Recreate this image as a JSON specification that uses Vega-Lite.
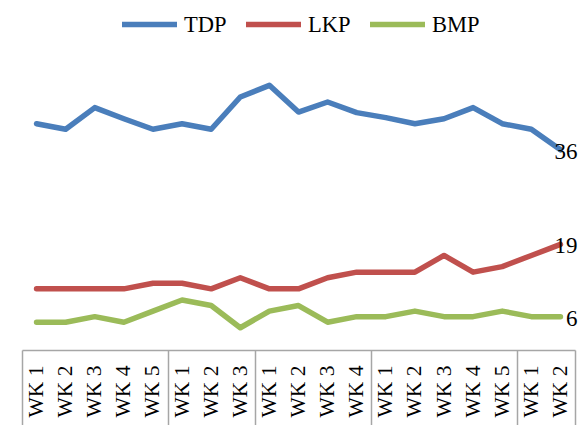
{
  "$schema": "https://vega.github.io/schema/vega-lite/v6.json",
  "autosize": {"type": "none"},
  "padding": {"left": 22, "top": 72, "right": 10, "bottom": 75},
  "width": 553,
  "height": 278,
  "config": {"view": {"stroke": null}, "font": "Liberation Serif"},
  "data": {
    "values": [
      {"key": "1|WK 1", "TDP": 40.7, "LKP": 11, "BMP": 5},
      {"key": "1|WK 2", "TDP": 39.7, "LKP": 11, "BMP": 5},
      {"key": "1|WK 3", "TDP": 43.6, "LKP": 11, "BMP": 6},
      {"key": "1|WK 4", "TDP": 41.6, "LKP": 11, "BMP": 5},
      {"key": "1|WK 5", "TDP": 39.7, "LKP": 12, "BMP": 7},
      {"key": "2|WK 1", "TDP": 40.7, "LKP": 12, "BMP": 9},
      {"key": "2|WK 2", "TDP": 39.7, "LKP": 11, "BMP": 8},
      {"key": "2|WK 3", "TDP": 45.5, "LKP": 13, "BMP": 4},
      {"key": "3|WK 1", "TDP": 47.6, "LKP": 11, "BMP": 7},
      {"key": "3|WK 2", "TDP": 42.8, "LKP": 11, "BMP": 8},
      {"key": "3|WK 3", "TDP": 44.6, "LKP": 13, "BMP": 5},
      {"key": "3|WK 4", "TDP": 42.7, "LKP": 14, "BMP": 6},
      {"key": "4|WK 1", "TDP": 41.8, "LKP": 14, "BMP": 6},
      {"key": "4|WK 2", "TDP": 40.7, "LKP": 14, "BMP": 7},
      {"key": "4|WK 3", "TDP": 41.6, "LKP": 17, "BMP": 6},
      {"key": "4|WK 4", "TDP": 43.6, "LKP": 14, "BMP": 6},
      {"key": "4|WK 5", "TDP": 40.7, "LKP": 15, "BMP": 7},
      {"key": "5|WK 1", "TDP": 39.7, "LKP": 17, "BMP": 6},
      {"key": "5|WK 2", "TDP": 36, "LKP": 19, "BMP": 6}
    ]
  },
  "transform": [{"fold": ["TDP", "LKP", "BMP"], "as": ["series", "value"]}],
  "encoding": {
    "x": {
      "field": "key",
      "type": "nominal",
      "sort": null,
      "bandPosition": 0.5,
      "scale": {"type": "band", "paddingInner": 0, "paddingOuter": 0},
      "axis": {
        "title": null,
        "labelExpr": "split(datum.value, '|')[1]",
        "labelAngle": 270,
        "labelFontSize": 21.5,
        "labelFont": "Liberation Serif",
        "labelColor": "black",
        "labelOverlap": false,
        "labelPadding": -61,
        "tickBand": "extent",
        "tickSize": 76,
        "tickColor": "#a6a6a6",
        "tickWidth": 1.5,
        "tickOpacity": {
          "condition": {
            "test": "datum.extra || indexof(['1|WK 5','2|WK 3','3|WK 4','4|WK 5','5|WK 2'], datum.value) >= 0",
            "value": 1
          },
          "value": 0
        },
        "domainColor": "#a6a6a6",
        "domainWidth": 1.5
      }
    },
    "y": {
      "field": "value",
      "type": "quantitative",
      "scale": {"domain": [0, 50]},
      "axis": null
    }
  },
  "layer": [
    {
      "mark": {"type": "line", "strokeWidth": 5.5, "strokeCap": "round", "strokeJoin": "round"},
      "encoding": {
        "color": {
          "field": "series",
          "type": "nominal",
          "scale": {"domain": ["TDP", "LKP", "BMP"], "range": ["#4a7ebb", "#c0504d", "#9bbb59"]},
          "legend": {
            "orient": "none",
            "legendX": 97,
            "legendY": -78,
            "direction": "horizontal",
            "title": null,
            "symbolType": "stroke",
            "symbolSize": 3025,
            "symbolStrokeWidth": 5.5,
            "labelFont": "Liberation Serif",
            "labelFontSize": 22.5,
            "labelColor": "black",
            "columnPadding": 8,
            "labelOffset": 4,
            "padding": 0
          }
        }
      }
    },
    {
      "transform": [{"filter": "datum.key === '5|WK 2'"}],
      "mark": {"type": "text", "align": "right", "baseline": "middle", "dx": 17, "dy": 2, "fontSize": 23, "font": "Liberation Serif", "color": "black"},
      "encoding": {
        "text": {"field": "value", "type": "quantitative", "format": "d"}
      }
    }
  ]
}
